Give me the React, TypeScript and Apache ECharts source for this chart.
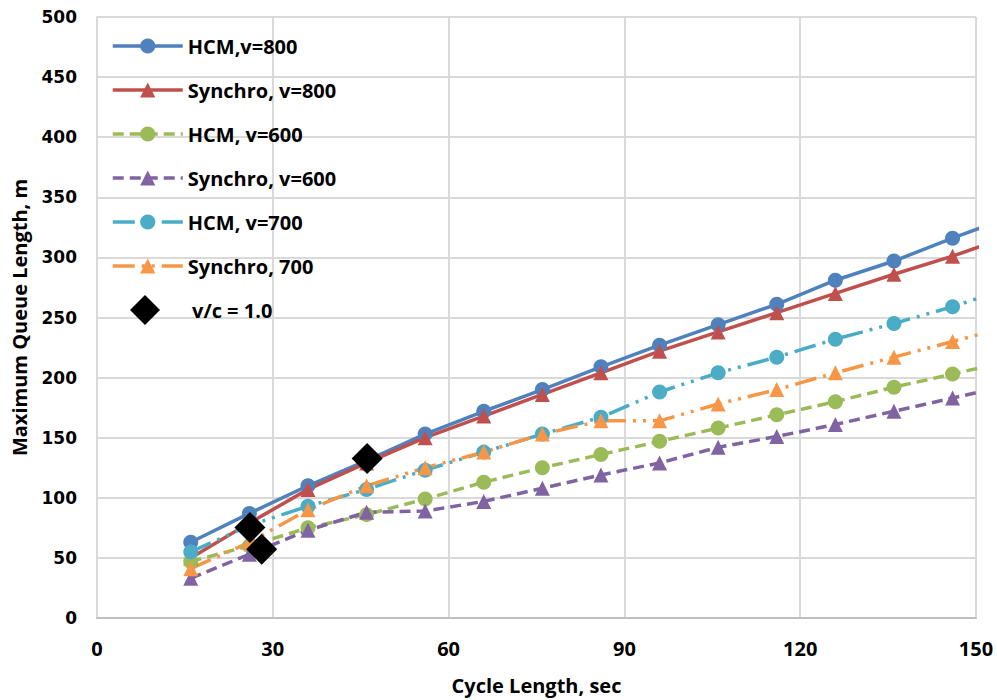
import React, { useEffect, useRef } from "react";
import * as echarts from "echarts";

const cycleLengths = [16, 26, 36, 46, 56, 66, 76, 86, 96, 106, 116, 126, 136, 146, 156];
const hcm800 = [63, 87, 110, 131, 153, 172, 190, 209, 227, 244, 261, 281, 297, 316, 334];
const synchro800 = [50, 79, 107, 129, 150, 168, 186, 204, 222, 238, 254, 270, 286, 301, 318];
const hcm600 = [47, 60, 75, 86, 99, 113, 125, 136, 147, 158, 169, 180, 192, 203, 214];
const synchro600 = [33, 53, 73, 88, 89, 97, 108, 119, 129, 142, 151, 161, 172, 183, 194];
const hcm700 = [55, 77, 93, 107, 123, 138, 153, 167, 188, 204, 217, 232, 245, 259, 275];
const synchro700 = [41, 63, 90, 110, 125, 138, 153, 164, 164, 178, 190, 204, 217, 230, 243];
const vcX = [26.1, 28.1, 46.1];
const vcY = [75.3, 57.3, 132.6];

const seriesNames = [
  "HCM,v=800",
  "Synchro, v=800",
  "HCM, v=600",
  "Synchro, v=600",
  "HCM, v=700",
  "Synchro, 700",
];
const vcName = "v/c = 1.0";

const pairs = (ys: number[]) => cycleLengths.map((x, i) => [x, ys[i]]);

export default function App() {
  const ref = useRef<HTMLDivElement>(null);
  useEffect(() => {
    if (!ref.current) return;
    document.body.style.margin = "0";
    const chart = echarts.init(ref.current, undefined, { renderer: "svg" });
    const dashDotDot = [22, 7, 3, 7, 3, 7];
    const mk = (
      name: string,
      ys: number[],
      color: string,
      symbol: string,
      type: any
    ) => ({
      name,
      type: "line",
      data: pairs(ys),
      symbol,
      symbolSize: 15,
      showSymbol: true,
      clip: true,
      lineStyle: { color, width: 3.5, type },
      itemStyle: { color, borderWidth: 0 },
    });
    const legendText = {
      fontFamily: "Open Sans",
      fontWeight: "bold",
      fontSize: 20,
      color: "#000",
    };
    chart.setOption({
      animation: false,
      backgroundColor: "#ffffff",
      grid: { left: 97, right: 21, top: 17, bottom: 81, containLabel: false },
      legend: [
        {
          data: seriesNames,
          orient: "vertical",
          left: 106,
          top: 31,
          itemWidth: 70,
          itemHeight: 19,
          itemGap: 24,
          lineStyle: { width: 3.5 },
          textStyle: { ...legendText, lineHeight: 19 },
        },
        {
          data: [vcName],
          orient: "vertical",
          left: 125,
          top: 290,
          itemWidth: 30,
          itemHeight: 30,
          itemStyle: { opacity: 1 },
          textStyle: { ...legendText, padding: [0, 0, 0, 27] },
        },
      ],
      xAxis: {
        type: "value",
        min: 0,
        max: 150,
        interval: 30,
        name: "Cycle Length, sec",
        nameLocation: "middle",
        nameGap: 57,
        nameTextStyle: {
          fontFamily: "Open Sans",
          fontWeight: "bold",
          fontSize: 20,
          color: "#000",
        },
        axisLine: { show: true, lineStyle: { color: "#BFBFBF", width: 2 } },
        axisTick: { show: false },
        axisLabel: {
          margin: 20,
          fontFamily: "Open Sans",
          fontWeight: "bold",
          fontSize: 20,
          color: "#000",
        },
        splitLine: { show: true, lineStyle: { color: "#D9D9D9", width: 2 } },
      },
      yAxis: {
        type: "value",
        min: 0,
        max: 500,
        interval: 50,
        name: "Maximum Queue Length, m",
        nameLocation: "middle",
        nameGap: 68,
        nameTextStyle: {
          fontFamily: "Open Sans",
          fontWeight: "bold",
          fontSize: 20,
          color: "#000",
        },
        axisLine: { show: true, lineStyle: { color: "#D9D9D9", width: 2 } },
        axisTick: { show: false },
        axisLabel: {
          margin: 20,
          fontFamily: "DejaVu Sans",
          fontWeight: "bold",
          fontSize: 17,
          color: "#000",
        },
        splitLine: { show: true, lineStyle: { color: "#D9D9D9", width: 2 } },
      },
      series: [
        mk(seriesNames[0], hcm800, "#4F81BD", "circle", "solid"),
        mk(seriesNames[1], synchro800, "#C0504D", "triangle", "solid"),
        mk(seriesNames[2], hcm600, "#9BBB59", "circle", [11, 6]),
        mk(seriesNames[3], synchro600, "#8064A2", "triangle", [11, 6]),
        mk(seriesNames[4], hcm700, "#4BACC6", "circle", dashDotDot),
        mk(seriesNames[5], synchro700, "#F79646", "triangle", dashDotDot),
        {
          name: vcName,
          type: "scatter",
          data: vcX.map((x, i) => [x, vcY[i]]),
          symbol: "diamond",
          symbolSize: 31,
          itemStyle: { color: "#000000", opacity: 1 },
          z: 5,
        },
      ],
    });
    return () => chart.dispose();
  }, []);
  return <div ref={ref} style={{ width: 997, height: 700 }} />;
}
